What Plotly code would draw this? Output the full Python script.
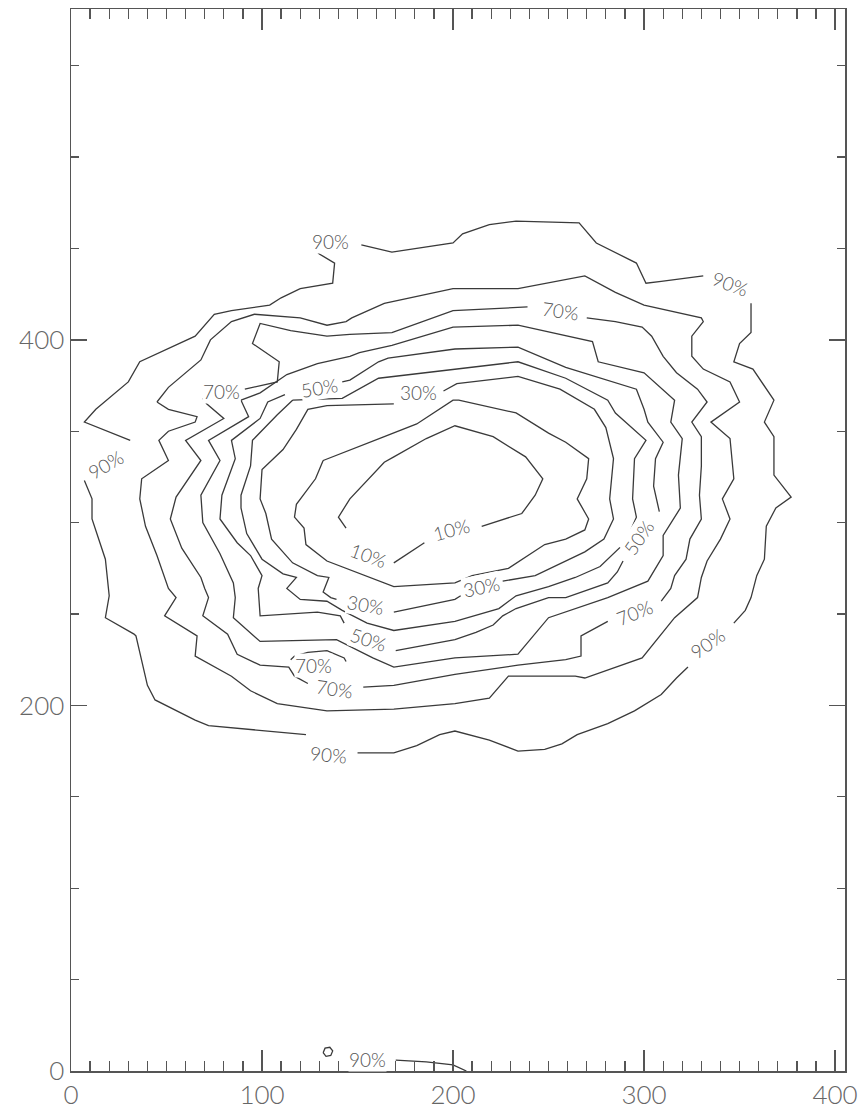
import plotly.graph_objects as go

# ---- contour lines (data units), each level as list of segments ----
c90 = [
    [(152,452),(168,448),(200,453),(205,458),(219,463),(233,465),(266,464),(275,453),(296,442),(301,431),(309,432),(331,435)],
    [(356,420),(356,404),(350,398),(347,388),(357,384),(368,367),(363,355),(368,347),(368,326),(377,314),(369,308),(364,298),(363,280),(359,271),(356,259),(353,252),(347,245)],
    [(323,221),(317,215),(309,206),(295,197),(281,190),(265,184),(257,179),(248,176),(234,175),(219,181),(201,186),(193,184),(181,178),(169,174),(150,174)],
    [(123,184),(103,186),(72,189),(65,192),(44,203),(40,211),(34,238),(33,239),(18,248),(20,260),(18,280),(11,302),(11,313),(7,323)],
    [(31,345),(7,355),(13,362),(30,377),(36,388),(55,397),(65,402),(75,414),(84,416),(104,419),(110,423),(120,428),(137,431),(138,442),(130,447),(128,449)],
    [(132,10),(133,12.5),(135.5,13),(137,11),(136,8.5),(133.5,8),(132,10)],
    [(170,6),(186,5),(200,3.3),(207,0)],
]
c80 = [
    [(45,366),(51,374),(68,389),(73,400),(84,410),(96,414),(120,412),(134,408),(144,410),(147,412),(164,420),(200,428),(234,428),(264,434),(269,435),(285,426),(300,419),(330,412),(331,410),(325,402),(325,391),(331,384),(345,377),(350,366),(335,355),(345,346),(347,324),(341,313),(345,302),(340,291),(333,279),(330,270),(328,259),(316,248),(299,226),(269,215),(264,216),(229,216),(219,204),(201,201),(169,198),(134,197),(108,201),(94,208),(84,216),(65,227),(66,238),(49,249),(55,259),(51,264),(49,270),(45,282),(39,298),(36,313),(37,324),(51,334),(46,345),(51,350),(65,355),(66,358),(51,362),(45,366)],
]
c70 = [
    [(91,373),(95,374),(108,377),(109,388),(95,398),(99,409),(115,405),(134,402),(146,403),(168,404),(200,416),(239,418)],
    [(270,412),(285,410),(299,407),(304,402),(310,391),(317,382),(328,373),(333,366),(325,355),(330,347),(330,331),(329,315),(330,302),(324,291),(322,280),(316,271),(314,264),(309,257)],
    [(281,246),(267,238),(267,227),(259,225),(234,222),(201,217),(169,211),(153,210)],
    [(124,212),(117,216),(114,221),(99,222),(87,228),(82,239),(69,249),(72,259),(70,264),(68,270),(58,286),(52,302),(55,314),(68,334),(60,345),(80,357),(71,365),(69,368)],
    [(115,225),(117,227),(124,229),(134,230),(143,226),(144,224)],
]
c60 = [
    [(89,367),(99,371),(113,381),(129,387),(146,391),(151,393),(168,397),(200,407),(234,408),(259,402),(273,399),(276,388),(300,382),(316,367),(314,355),(320,346),(318,326),(319,308),(310,293),(310,282),(302,268),(281,259),(264,253),(250,248),(234,228),(201,226),(169,221),(158,226),(139,236),(99,235),(85,248),(86,259),(85,267),(78,283),(69,300),(68,315),(78,334),(72,345),(93,358),(89,367)],
]
c50 = [
    [(142,377),(146,378),(161,388),(166,390),(201,395),(234,396),(259,385),(281,378),(296,373),(300,362),(302,355),(310,344),(306,335),(305,320),(308,306)],
    [(289,279),(286,273),(281,267),(259,259),(250,259),(233,253),(226,249),(221,244),(212,240),(201,236),(170,230)],
    [(143,245),(141,249),(129,251),(99,249),(98,264),(100,271),(94,282),(87,289),(78,302),(79,315),(86,335),(84,345),(99,357),(103,366),(112,370)],
]
c40 = [
    [(116,367),(142,368),(161,379),(201,384),(234,388),(259,379),(281,367),(285,360),(301,345),(295,335),(294,313),(296,303),(290,289),(277,276),(264,270),(250,265),(233,260),(224,253),(201,246),(169,241),(155,245),(142,252),(134,257),(120,258),(113,264),(118,270),(111,272),(100,280),(92,294),(89,308),(89,315),(94,331),(95,345),(108,359),(116,367)],
]
c30 = [
    [(195,372),(202,376),(234,380),(256,373),(274,362),(280,352),(284,335),(282,313),(284,302),(279,291),(269,284),(257,278),(243,271),(226,268)],
    [(204,260),(201,258),(169,251)],
    [(139,258),(136,259),(132,262),(135,270),(129,271),(116,278),(105,291),(102,305),(99,313),(100,329),(111,340),(118,351),(124,362),(134,364),(169,365)],
]
c20 = [
    [(132,334),(128,324),(118,310),(117,303),(122,297),(123,288),(134,279),(169,265),(201,267),(210,271),(229,275),(248,288),(259,291),(269,296),(271,302),(265,313),(270,324),(271,335),(259,344),(250,349),(233,360),(203,367),(200,367),(181,354),(164,347),(132,334)],
]
c10 = [
    [(169,278),(185,289)],
    [(215,298),(236,305),(243,315),(247,324),(238,336),(221,347),(201,353),(186,346),(169,336),(164,333),(146,313),(140,303),(144,297)],
]

# contour labels: text, x, y, angle
label_text = ["90%","90%","90%","90%","90%","90%",
              "70%","70%","70%","70%","70%",
              "50%","50%","50%",
              "30%","30%","30%",
              "10%","10%"]
label_x = [136,345,333,135,18,155, 79,256,295,138,127, 130,297,156, 182,154,215, 199,156]
label_y = [454,431,234,173,332,6.5, 372,416,251,209,222, 374,292,236, 371,255,265, 296,282]
label_angle = [0,20,-35,5,-30,0, 0,8,-22,8,0, -10,-55,18, 0,10,-12, -15,20]

levels = [c90, c80, c70, c60, c50, c40, c30, c20, c10]

fig = go.Figure()
for segs in levels:
    xs, ys = [], []
    for seg in segs:
        for (x, y) in seg:
            xs.append(x); ys.append(y)
        xs.append(None); ys.append(None)
    fig.add_trace(go.Scatter(x=xs, y=ys, mode="lines",
                             line=dict(color="#3a3a3a", width=1.3),
                             connectgaps=False, hoverinfo="skip", showlegend=False))

for t, x, y, a in zip(label_text, label_x, label_y, label_angle):
    fig.add_annotation(x=x, y=y, text=t, textangle=a, showarrow=False,
                       font=dict(family="Lato", size=19, color="#555555", weight=300),
                       bgcolor="white", borderpad=0)

axis_common = dict(showgrid=False, zeroline=False, showline=True, linecolor="#555555",
                   linewidth=1.5, mirror="ticks", ticks="inside", tickcolor="#555555",
                   tickwidth=1.3,
                   tickfont=dict(family="Lato", size=26, color="#666666", weight=300))

fig.update_xaxes(range=[0, 405.2], tick0=0, dtick=100, ticklen=21,
                 minor=dict(dtick=10, ticklen=10, ticks="inside", tickcolor="#555555", tickwidth=1.3),
                 **axis_common)
fig.update_yaxes(range=[0, 581], tick0=0, dtick=200, ticklen=16,
                 minor=dict(dtick=50, ticklen=8, ticks="inside", tickcolor="#555555", tickwidth=1.3),
                 **axis_common)

fig.update_layout(width=865, height=1117, margin=dict(l=71, r=17, t=7, b=41),
                  plot_bgcolor="white", paper_bgcolor="white", hovermode=False)

fig.write_html("out.html",
               config={"displayModeBar": False, "staticPlot": True},
               post_script="document.body.style.margin='0';"
                           "document.documentElement.style.overflow='hidden';"
                           "document.body.style.overflow='hidden';")
